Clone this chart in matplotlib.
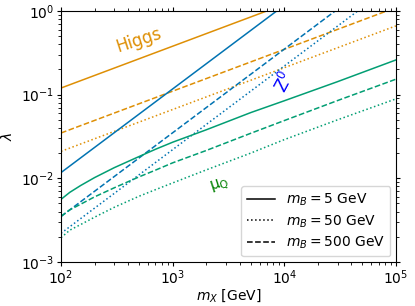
import matplotlib
matplotlib.use('Agg')
import matplotlib.pyplot as plt
import numpy as np

# colours (seaborn colorblind-like)
c_higgs = '#DE8F05'
c_z = '#0173B2'
c_mu = '#029E73'

# straight power-law curves: value at m_X = 100 GeV and at 1e5 GeV
mx_line = [1e2, 1e5]
higgs_5 = [0.12, 0.12 * 31.62]
higgs_50 = [0.021, 0.021 * 31.62]
higgs_500 = [0.0348, 0.0348 * 31.62]
z_5 = [0.0117, 11.7]
z_50 = [0.0022, 2.2]
z_500 = [0.0035, 3.5]

# mu_Q curves
mx_mu = [100, 120, 150, 200, 300, 500, 700, 1000, 2000, 5000, 1e4, 3e4, 1e5]
mu_5 = [0.0056, 0.0068, 0.0082, 0.0102, 0.0134, 0.0182, 0.0222, 0.027, 0.038, 0.061, 0.0845, 0.143, 0.26]
mu_50 = [0.00195, 0.0024, 0.0028, 0.00343, 0.0045, 0.0061, 0.0073, 0.0088, 0.0126, 0.0200, 0.029, 0.050, 0.089]
mu_500 = [0.0035, 0.0042, 0.0049, 0.0060, 0.0077, 0.0104, 0.0125, 0.0153, 0.0215, 0.0345, 0.049, 0.085, 0.153]

plt.rcParams['font.size'] = 10

fig = plt.figure(figsize=(4.15, 3.06), dpi=100)
ax = fig.add_axes([0.147, 0.144, 0.807, 0.820])

lw = 1.1
ax.plot(mx_line, higgs_5, color=c_higgs, ls='-', lw=lw)
ax.plot(mx_line, higgs_50, color=c_higgs, ls=':', lw=lw)
ax.plot(mx_line, higgs_500, color=c_higgs, ls='--', lw=lw)
ax.plot(mx_line, z_5, color=c_z, ls='-', lw=lw)
ax.plot(mx_line, z_50, color=c_z, ls=':', lw=lw)
ax.plot(mx_line, z_500, color=c_z, ls='--', lw=lw)
ax.plot(mx_mu, mu_5, color=c_mu, ls='-', lw=lw)
ax.plot(mx_mu, mu_50, color=c_mu, ls=':', lw=lw)
ax.plot(mx_mu, mu_500, color=c_mu, ls='--', lw=lw)

# legend with black handles
ax.plot([], [], color='k', ls='-', lw=lw, label=r'$m_B = 5$ GeV')
ax.plot([], [], color='k', ls=':', lw=lw, label=r'$m_B = 50$ GeV')
ax.plot([], [], color='k', ls='--', lw=lw, label=r'$m_B = 500$ GeV')
ax.legend(loc='lower right', fontsize=10, labelspacing=0.35, borderaxespad=0.4)

ax.text(500, 0.45, 'Higgs', color=c_higgs, fontsize=12, rotation=18, ha='center', va='center')
ax.text(10000, 0.14, r'Z$^0$', color='blue', fontsize=12, rotation=62, ha='center', va='center')
ax.text(2650, 0.0083, r'μ$_\mathrm{Q}$', color='green', fontsize=11, rotation=18, ha='center', va='center')

ax.set_xscale('log')
ax.set_yscale('log')
ax.set_xlim(1e2, 1e5)
ax.set_ylim(1e-3, 1)
ax.tick_params(which='both', direction='out', top=True, right=True, pad=2)
ax.tick_params(which='major', length=3)
ax.tick_params(which='minor', length=2)
ax.set_xlabel(r'$m_X$ [GeV]', labelpad=0)
ax.set_ylabel(r'$\lambda$')

fig.savefig('out.png', dpi=100)
